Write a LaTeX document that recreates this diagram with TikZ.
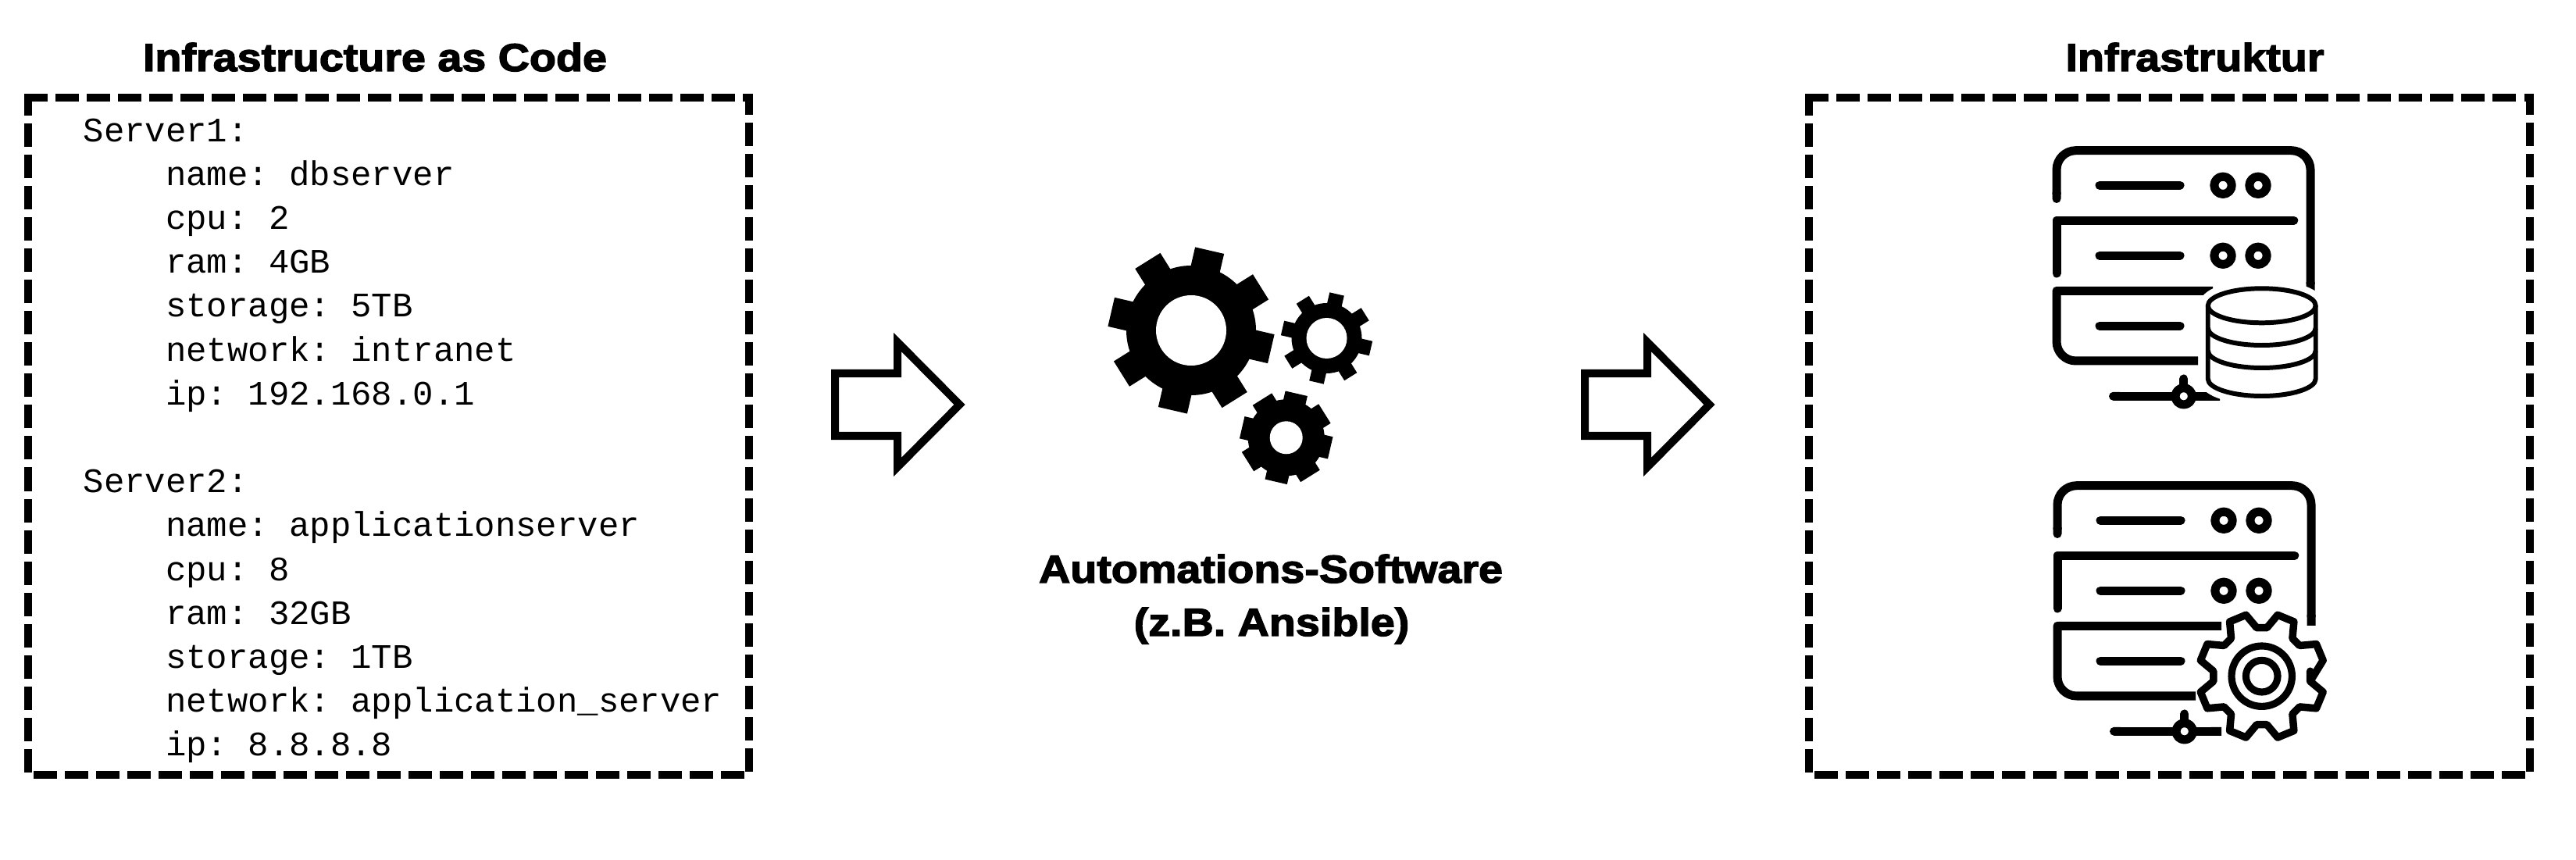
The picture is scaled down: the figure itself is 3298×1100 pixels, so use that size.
\documentclass[tikz,border=0pt]{standalone}
\usepackage{fontspec}
\usetikzlibrary{positioning,arrows.meta}
\newfontfamily\titlefont[BoldFeatures={FakeBold=2.8,FakeStretch=1.115}]{Liberation Sans}
\newfontfamily\codefont{Liberation Mono}
\newcommand{\ind}{\phantom{xxxx}}
\tikzset{
	dashbox/.style={line width=2.845pt, dash pattern=on 8.535pt off 2.845pt},
	titletext/.style={font=\titlefont\bfseries\fontsize{14.2pt}{17pt}\selectfont, anchor=base, inner sep=0pt},
	iconline/.style={line width=3.13pt, line join=round},
	dbline/.style={line width=1.7pt, line join=round}
}
% dashed frame, x of its left end
\newcommand{\dashframe}[1]{
	\draw[dashbox] (#1,975) -- (#1+928,975) -- (#1+928,108) -- (#1+5,108) -- (#1+5,980);
}
% block arrow, left end of the tail at #1
\newcommand{\blockarrow}[1]{
	\draw[line width=2.85pt, miter limit=10] (#1,622) -- (#1+80,622) -- (#1+80,662) -- (#1+159.5,582) -- (#1+80,502) -- (#1+80,542) -- (#1,542) -- cycle;
}
% gear: x, y, tooth radius, body radius, hole radius, half tooth width
\newcommand{\cogwheel}[6]{
	\begin{scope}[shift={(#1,#2)}]
		\fill (0,0) circle (#4);
		\foreach \a in {77,122,...,392}
			\fill[rotate=\a] (0,-#6) rectangle (#3,#6);
		\fill[white] (0,0) circle (#5);
	\end{scope}
}
% server: y of scope, x shift, end of right side, end of third row, end of bottom, end of wire
\newcommand{\servericon}[6]{
	\begin{scope}[shift={(2580+#2,#1)}]
		\draw[iconline, {Round Cap[]}-{Butt Cap[]}, rounded corners=7pt] (53,-100) -- (53,-32.7) -- (378,-32.7) -- (378,-#3);
		\draw[iconline, line cap=round] (356.7,-122.3) -- (53,-122.3) -- (53,-190);
		\draw[iconline] (#4,-212.3) -- (53,-212.3) [rounded corners=7pt] -- (53,-302) -- (#5,-302);
		\foreach \y in {77.3,167.3,257.3}
			\draw[iconline, line cap=round] (108,-\y) -- (211,-\y);
		\foreach \y in {77.3,167.3} {
			\draw[iconline] (266,-\y) circle (11.2);
			\draw[iconline] (311,-\y) circle (11.2);
		}
		\draw[iconline, {Round Cap[]}-{Butt Cap[]}] (120,-347.3) -- (#6,-347.3);
		\draw[iconline, line cap=round] (215.7,-325) -- (215.7,-337);
		\draw[iconline, fill=white] (215.7,-347.3) circle (10.7);
	\end{scope}
}

\begin{document}
\begin{tikzpicture}[x=0.01cm,y=0.01cm]
	\useasboundingbox (0,0) rectangle (3298,1100);

	\node[titletext] (titlecode) at (480,1009) {Infrastructure as Code};
	\dashframe{31}
	\node[anchor=north west, align=left, inner sep=0pt, font=\codefont\fontsize{12.5pt}{15.98pt}\selectfont\frenchspacing] (code) at (106,949) {%
		Server1:\\
		\ind name: dbserver\\
		\ind cpu: 2\\
		\ind ram: 4GB\\
		\ind storage: 5TB\\
		\ind network: intranet\\
		\ind ip: 192.168.0.1\\
		\mbox{}\\
		Server2:\\
		\ind name: applicationserver\\
		\ind cpu: 8\\
		\ind ram: 32GB\\
		\ind storage: 1TB\\
		\ind network: application\_server\\
		\ind ip: 8.8.8.8};

	\blockarrow{1069}
	\blockarrow{2029}

	\cogwheel{1525}{677}{105}{83}{45}{19}
	\cogwheel{1698.5}{667}{58}{45}{26}{9.5}
	\cogwheel{1646.7}{539.7}{58}{49}{21}{14.5}
	\node[titletext] (autoname) at (1627,354) {Automations-Software};
	\node[titletext] (autotool) at (1628,286) {(z.B. Ansible)};

	\node[titletext] (titleinfra) at (2810,1009) {Infrastruktur};
	\dashframe{2311}

	% upper server with database
	\servericon{940}{0}{215}{253}{234}{262}
	\begin{scope}[shift={(2580,940)}]
		\draw[white, fill=white, line width=6.3pt] (246.7,-231.3) arc (180:0:69 and 22) -- (384.7,-325) arc (0:-180:69 and 22) -- cycle;
		\draw[dbline] (315.7,-231.3) ellipse (69 and 22);
		\draw[dbline] (246.7,-231.3) -- (246.7,-325) arc (180:360:69 and 22) -- (384.7,-231.3);
		\draw[dbline] (246.7,-260) arc (180:360:69 and 22);
		\draw[dbline] (246.7,-289) arc (180:360:69 and 22);
	\end{scope}

	% lower server with gear
	\servericon{511}{1}{212}{263}{230}{263}
	\begin{scope}[shift={(2895.7,234.3)}]
		\draw[iconline, line width=2.7pt, fill=white] (-6:62.3) \foreach \a in {22.5,67.5,...,337.5} { -- (\a-8:81) -- (\a+8:81) -- (\a+16.5:62.3) -- (\a+28.5:62.3) } -- cycle;
		\draw[iconline, line width=2.6pt] (0,0) circle (38.7);
		\draw[iconline, line width=2.6pt] (0,0) circle (20.3);
	\end{scope}
\end{tikzpicture}
\end{document}
